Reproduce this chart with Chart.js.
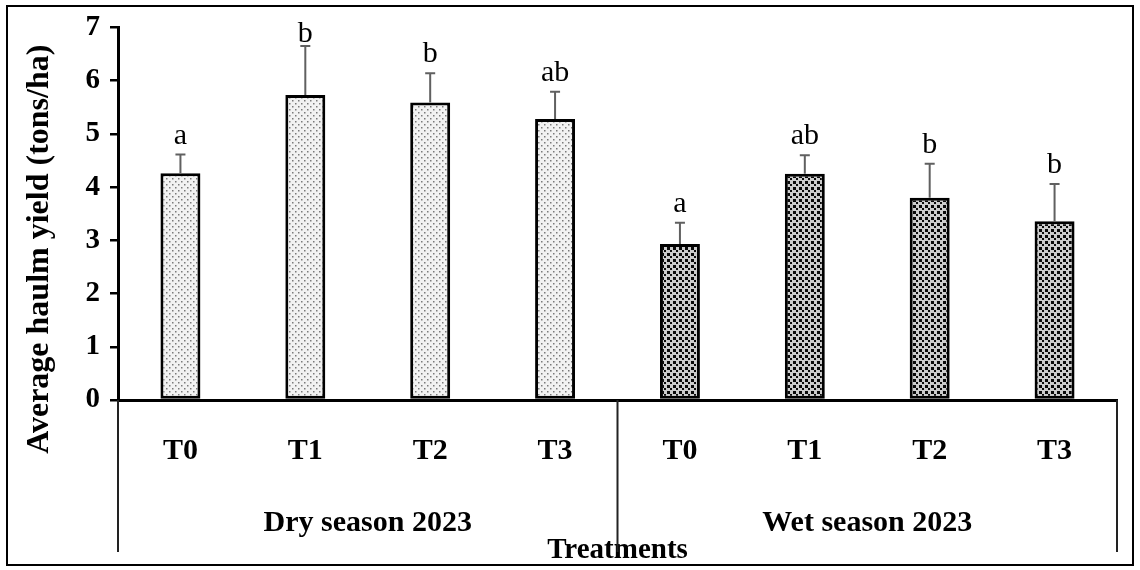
<!DOCTYPE html>
<html>
<head>
<meta charset="utf-8">
<script src="https://cdn.jsdelivr.net/npm/chart.js@4.4.1/dist/chart.umd.min.js"></script>
<style>
  html, body { margin: 0; padding: 0; background: #fff; }
  #wrap { width: 1140px; height: 570px; }
</style>
</head>
<body>
<div id="wrap"><canvas id="chart" width="1140" height="570"></canvas></div>
<script>
const treatments = ['T0', 'T1', 'T2', 'T3', 'T0', 'T1', 'T2', 'T3'];
const seasons = ['Dry season 2023', 'Wet season 2023'];
const seasonOfBar = [0, 0, 0, 0, 1, 1, 1, 1];
const yieldMeans = [4.26, 5.73, 5.59, 5.28, 2.93, 4.25, 3.80, 3.36];
const yieldErrors = [0.35, 0.92, 0.55, 0.51, 0.40, 0.35, 0.64, 0.70];
const letters = ['a', 'b', 'b', 'ab', 'a', 'ab', 'b', 'b'];
const yTicks = [0, 1, 2, 3, 4, 5, 6, 7];
const yTitle = 'Average haulm yield (tons/ha)';

const serif = '"Liberation Serif", "Times New Roman", serif';
const canvas = document.getElementById('chart');
const ctx = canvas.getContext('2d');

// dotted fills like the excel pattern fills
function makePattern(bg, dot, size) {
    const tile = document.createElement('canvas');
    tile.width = 6;
    tile.height = 6;
    const t = tile.getContext('2d');
    t.fillStyle = bg;
    t.fillRect(0, 0, 6, 6);
    t.fillStyle = dot;
    t.fillRect(1, 1, size, size);
    t.fillRect(4, 4, size, size);
    return ctx.createPattern(tile, 'repeat');
}

const seasonFills = [
    makePattern('#f2f2f2', '#7a7a7a', 1.5),
    makePattern('#cccccc', '#0a0a0a', 3)
];

const framePlugin = {
    id: 'frame',
    beforeDraw(chart) {
        const c = chart.ctx;
        c.save();
        c.fillStyle = '#fff';
        c.fillRect(0, 0, chart.width, chart.height);
        c.strokeStyle = '#000';
        c.lineWidth = 2;
        c.strokeRect(7, 6, 1126, 559);
        c.restore();
    },
    afterDraw(chart) {
        const x = chart.scales.x;
        const x2 = chart.scales.x2;
        const y = chart.scales.y;
        const c = chart.ctx;
        c.save();
        // group separators of the two-level category axis
        const mid = (x.getPixelForValue(3) + x.getPixelForValue(4)) / 2;
        c.strokeStyle = '#222';
        c.lineWidth = 2;
        c.beginPath();
        [x.left, mid, x.right].forEach(px => {
            c.moveTo(px, x.top);
            c.lineTo(px, x2.bottom - 18);
        });
        c.stroke();

        // y title sits a bit lower than the plot centre, as excel placed it
        c.translate(y.left + 30, (y.top + x.bottom) / 2 - 2);
        c.rotate(-Math.PI / 2);
        c.fillStyle = '#000';
        c.font = 'bold 32px ' + serif;
        c.textAlign = 'center';
        c.textBaseline = 'middle';
        c.fillText(yTitle, 0, 0);
        c.restore();
    }
};

const errorBarPlugin = {
    id: 'errorBars',
    afterDatasetsDraw(chart) {
        const c = chart.ctx;
        const y = chart.scales.y;
        const meta = chart.getDatasetMeta(0);
        c.save();
        meta.data.forEach((bar, i) => {
            const top = y.getPixelForValue(yieldMeans[i] + yieldErrors[i]);
            const base = y.getPixelForValue(yieldMeans[i]);
            c.strokeStyle = '#606060';
            c.lineWidth = 2;
            c.beginPath();
            c.moveTo(bar.x, base);
            c.lineTo(bar.x, top);
            c.moveTo(bar.x - 5, top);
            c.lineTo(bar.x + 5, top);
            c.stroke();

            c.fillStyle = '#000';
            c.font = '30px ' + serif;
            c.textAlign = 'center';
            c.textBaseline = 'alphabetic';
            const baseline = Math.max(top - 11, chart.chartArea.top + 15);
            c.fillText(letters[i], bar.x, baseline);
        });
        c.restore();
    }
};

new Chart(ctx, {
    type: 'bar',
    data: {
        labels: treatments,
        datasets: [{
            data: yieldMeans,
            backgroundColor: seasonOfBar.map(s => seasonFills[s]),
            borderColor: '#000',
            borderWidth: 3,
            borderSkipped: false,
            barPercentage: 0.32,
            categoryPercentage: 1
        }]
    },
    options: {
        responsive: false,
        animation: false,
        layout: { padding: { left: 10, right: 23, top: 22, bottom: 0 } },
        plugins: {
            legend: { display: false },
            tooltip: { enabled: false }
        },
        scales: {
            y: {
                min: 0,
                max: 7,
                afterBuildTicks: scale => { scale.ticks = yTicks.map(v => ({ value: v })); },
                ticks: {
                    color: '#000',
                    padding: 10,
                    font: { family: serif, size: 29, weight: 'bold' }
                },
                grid: { drawOnChartArea: false, color: '#000', lineWidth: 2.5, tickLength: 8 },
                border: { color: '#000', width: 3 },
                afterFit: scale => { scale.width = 108; }
            },
            x: {
                position: 'bottom',
                grid: { display: false },
                border: { color: '#000', width: 3 },
                ticks: {
                    color: '#000',
                    padding: 25,
                    font: { family: serif, size: 30, weight: 'bold' }
                },
                afterFit: scale => { scale.height = 75; }
            },
            x2: {
                type: 'category',
                labels: seasons,
                position: 'bottom',
                offset: true,
                grid: { display: false },
                border: { display: false },
                ticks: {
                    color: '#000',
                    padding: 22,
                    font: { family: serif, size: 30, weight: 'bold' }
                },
                title: {
                    display: true,
                    text: 'Treatments',
                    color: '#000',
                    padding: { top: 0, bottom: 2 },
                    font: { family: serif, size: 29, weight: 'bold' }
                },
                afterFit: scale => { scale.height = 95; }
            }
        }
    },
    plugins: [framePlugin, errorBarPlugin]
});
</script>
</body>
</html>
